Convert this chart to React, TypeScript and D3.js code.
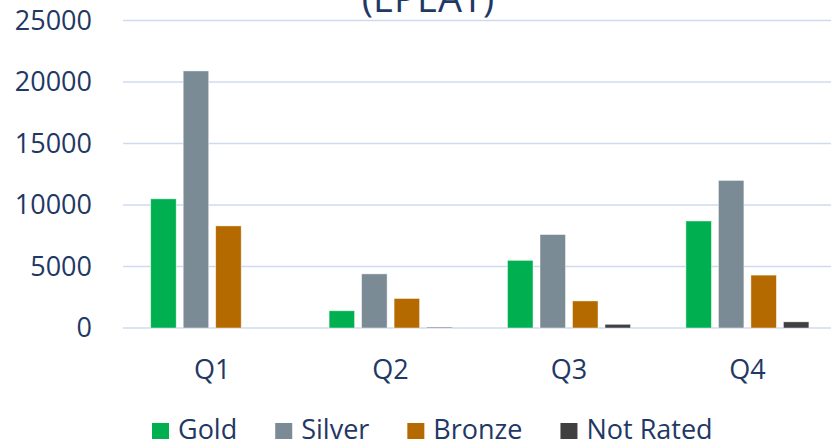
import React, { useEffect, useRef } from 'react';
import * as d3 from 'd3';

const quarters = ['Q1', 'Q2', 'Q3', 'Q4'];
const seriesNames = ['Gold', 'Silver', 'Bronze', 'Not Rated'];
const gold = [10500, 1400, 5500, 8700];
const silver = [20900, 4400, 7600, 12000];
const bronze = [8300, 2400, 2200, 4300];
const notRated = [0, 70, 300, 500];
const yTicks = [0, 5000, 10000, 15000, 20000, 25000];
const palette = ['#00B050', '#7B8B96', '#B56A00', '#404040'];

const WIDTH = 831;
const HEIGHT = 447;
const FONT = '"Open Sans", sans-serif';
const TEXT_COLOR = '#1F3864';

export default function App() {
    const ref = useRef<SVGSVGElement>(null);

    useEffect(() => {
        const svg = d3.select(ref.current);
        svg.selectAll('*').remove();

        const margin = { top: 20.5, left: 123, bottom: 119, right: -5.6 };
        const values = [gold, silver, bronze, notRated];

        const x0 = d3.scaleBand<string>()
            .domain(quarters)
            .range([margin.left, WIDTH - margin.right]);

        const x1 = d3.scaleBand<string>()
            .domain(seriesNames)
            .range([27.7, x0.bandwidth() - 27.7])
            .paddingInner(0.215);

        const y = d3.scaleLinear()
            .domain([0, 25000])
            .range([HEIGHT - margin.bottom, margin.top]);

        // gridlines
        svg.append('g')
            .selectAll('line')
            .data(yTicks)
            .join('line')
            .attr('x1', margin.left)
            .attr('x2', WIDTH)
            .attr('y1', d => y(d))
            .attr('y2', d => y(d))
            .attr('stroke', '#D0DAEE')
            .attr('stroke-width', 1.5);

        // y labels
        svg.append('g')
            .selectAll('text')
            .data(yTicks)
            .join('text')
            .attr('x', 92)
            .attr('y', d => y(d))
            .attr('dy', '0.35em')
            .attr('text-anchor', 'end')
            .attr('font-family', FONT)
            .attr('font-size', 27)
            .attr('fill', TEXT_COLOR)
            .text(d => d);

        // bars
        const groups = svg.append('g')
            .selectAll('g')
            .data(quarters)
            .join('g')
            .attr('transform', q => `translate(${x0(q)},0)`);

        groups.selectAll('rect')
            .data((q, qi) => seriesNames.map((s, si) => ({ s, si, v: values[si][qi] })))
            .join('rect')
            .attr('x', d => x1(d.s) as number)
            .attr('y', d => y(d.v))
            .attr('width', x1.bandwidth())
            .attr('height', d => y(0) - y(d.v))
            .attr('fill', d => palette[d.si])
            .attr('stroke', '#ffffff')
            .attr('stroke-opacity', 0.6)
            .attr('stroke-width', 0.75);

        // x labels
        svg.append('g')
            .selectAll('text')
            .data(quarters)
            .join('text')
            .attr('x', q => (x0(q) as number) + x0.bandwidth() / 2)
            .attr('y', 379)
            .attr('text-anchor', 'middle')
            .attr('font-family', FONT)
            .attr('font-size', 27)
            .attr('fill', TEXT_COLOR)
            .text(q => q);

        // title (cut off at the top)
        svg.append('text')
            .attr('x', 428)
            .attr('y', 12)
            .attr('text-anchor', 'middle')
            .attr('font-family', FONT)
            .attr('font-size', 38)
            .attr('fill', TEXT_COLOR)
            .text('(EPEAT)');

        // legend
        const legend = svg.append('g');
        let cursor = 152;
        seriesNames.forEach((name, i) => {
            legend.append('rect')
                .attr('x', cursor)
                .attr('y', 423)
                .attr('width', 17)
                .attr('height', 16)
                .attr('fill', palette[i]);
            const t = legend.append('text')
                .attr('x', cursor + 26)
                .attr('y', 439)
                .attr('font-family', FONT)
                .attr('font-size', 27)
                .attr('fill', TEXT_COLOR)
                .text(name);
            const w = (t.node() as SVGTextElement).getComputedTextLength();
            cursor += 26 + w + 38;
        });
    }, []);

    return (
        <>
            <style>{'body{margin:0}'}</style>
            <svg ref={ref} width={WIDTH} height={HEIGHT} style={{ display: 'block', background: '#fff' }} />
        </>
    );
}
